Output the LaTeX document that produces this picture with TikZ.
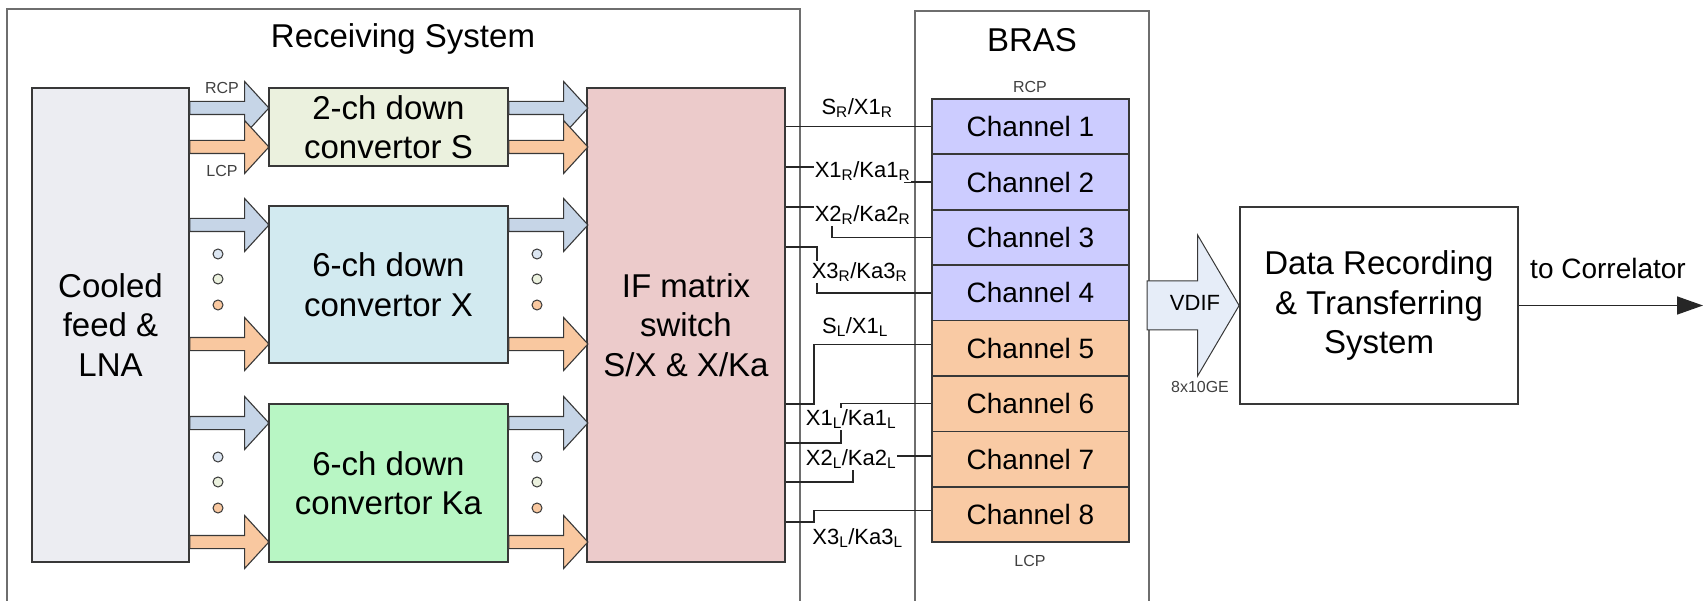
\documentclass[tikz,border=0pt]{standalone}
\usepackage{fontspec}
\setmainfont{Liberation Sans}
\usetikzlibrary{shapes.arrows,arrows.meta}

\definecolor{framegray}{HTML}{6E6E6E}
\definecolor{boxline}{HTML}{383838}
\definecolor{feedfill}{HTML}{ECEDF2}
\definecolor{sfill}{HTML}{EBF1DE}
\definecolor{xfill}{HTML}{D2EAF0}
\definecolor{kafill}{HTML}{B8F6C4}
\definecolor{iffill}{HTML}{ECCBCB}
\definecolor{rcpfill}{HTML}{CCCCFF}
\definecolor{lcpfill}{HTML}{F9CAA4}
\definecolor{rcparrow}{HTML}{C6D5E7}
\definecolor{lcparrow}{HTML}{F9C8A0}
\definecolor{vdiffill}{HTML}{E6EDF8}
\definecolor{dotblue}{HTML}{DCE6F2}

\tikzset{
  rimline/.style={draw=framegray, line width=2.6pt},
  block/.style={draw=boxline, line width=1.8pt, align=center, inner sep=0pt,
    font=\fontsize{33}{39.5}\selectfont},
  chan/.style={block, minimum width=197pt, minimum height=55.4pt,
    font=\fontsize{28}{34}\selectfont},
  flow/.style={single arrow, draw=boxline, line width=1.1pt, inner xsep=0pt, inner ysep=6pt,
    outer sep=0pt, minimum height=79pt, single arrow head extend=20pt,
    single arrow tip angle=95, anchor=tail},
  wire/.style={line width=1.4pt, draw=black!85},
  sig/.style={fill=white, inner sep=1pt, font=\fontsize{22}{26}\selectfont},
  pol/.style={text=black!75, inner sep=0pt, font=\fontsize{16}{18}\selectfont},
  gapdot/.style={circle, draw=boxline, line width=1pt, minimum size=10pt, inner sep=0pt}
}

\begin{document}
\begin{tikzpicture}[x=1pt,y=-1pt]
\useasboundingbox (0,0) rectangle (1704,601);

% the two frames run off the bottom
\draw[rimline] (7,601) -- (7,9) -- (800,9) -- (800,601);
\draw[rimline] (915,601) -- (915,11) -- (1149,11) -- (1149,601);
\node[font=\fontsize{33}{39.5}\selectfont] (rxtitle) at (403,39) {Receiving System};
\node[font=\fontsize{33}{39.5}\selectfont] (brastitle) at (1032,40) {BRAS};

\node[block, fill=feedfill, minimum width=157pt, minimum height=474pt] (feed) at (110.5,325) {Cooled\\feed \&\\LNA};
\node[block, fill=sfill, minimum width=239pt, minimum height=78pt] (convs) at (388.5,127) {2-ch down\\convertor S};
\node[block, fill=xfill, minimum width=239pt, minimum height=157pt] (convx) at (388.5,284.5) {6-ch down\\convertor X};
\node[block, fill=kafill, minimum width=239pt, minimum height=158pt] (convka) at (388.5,483) {6-ch down\\convertor Ka};
\node[block, fill=iffill, minimum width=198pt, minimum height=474pt] (ifm) at (686,325) {IF matrix\\switch\\S/X \& X/Ka};
\foreach \i/\c in {1/rcpfill,2/rcpfill,3/rcpfill,4/rcpfill,5/lcpfill,6/lcpfill,7/lcpfill,8/lcpfill}
  \node[chan, fill=\c] (ch\i) at (1030.5,71.3+55.4*\i) {Channel \i};
\node[block, minimum width=278pt, minimum height=197pt] (rec) at (1379,305.5) {Data Recording\\\& Transferring\\System};

\foreach \y/\c in {108/rcparrow,147/lcparrow,225/rcparrow,344/lcparrow,423/rcparrow,542/lcparrow} {
  \node[flow, fill=\c] (in\y) at (feed.east |- 0,\y) {};
  \node[flow, fill=\c] (out\y) at (convs.east |- 0,\y) {};
}
\foreach \x in {218,537}
  \foreach \y/\c in {0/dotblue,25/sfill,51/lcparrow} {
    \node[gapdot, fill=\c] (dx\x-\y) at (\x,254+\y) {};
    \node[gapdot, fill=\c] (dk\x-\y) at (\x,457+\y) {};
  }
\node[pol] (rcpin) at (222,88) {RCP};
\node[pol] (lcpin) at (222,171) {LCP};
\node[pol] (rcpout) at (1030,87) {RCP};
\node[pol] (lcpout) at (1030,561) {LCP};

\draw[wire] (ifm.east |- ch1.west) -- (ch1.west);
\draw[wire] (ifm.east |- 0,167) -- (905,167) |- (ch2.west);
\draw[wire] (ifm.east |- 0,207) -- (832,207) |- (ch3.west);
\draw[wire] (ifm.east |- 0,247) -- (817,247) |- (ch4.west);
\draw[wire] (ifm.east |- 0,404) -- (814,404) |- ([yshift=4pt]ch5.west);
\draw[wire] (ifm.east |- 0,443) -- (841,443) |- (ch6.west);
\draw[wire] (ifm.east |- 0,482) -- (853,482) |- ([yshift=3pt]ch7.west);
\draw[wire] (ifm.east |- 0,522) -- (814,522) |- ([yshift=4pt]ch8.west);
\node[sig] (sr) at (857,108) {S\textsubscript{R}/X1\textsubscript{R}};
\node[sig] (x1r) at (862.5,171) {X1\textsubscript{R}/Ka1\textsubscript{R}};
\node[sig] (x2r) at (862.5,215) {X2\textsubscript{R}/Ka2\textsubscript{R}};
\node[sig] (x3r) at (859.5,272) {X3\textsubscript{R}/Ka3\textsubscript{R}};
\node[sig] (sl) at (855,327) {S\textsubscript{L}/X1\textsubscript{L}};
\node[sig] (x1l) at (851,419) {X1\textsubscript{L}/Ka1\textsubscript{L}};
\node[sig] (x2l) at (851,459) {X2\textsubscript{L}/Ka2\textsubscript{L}};
\node[sig] (x3l) at (857.5,538) {X3\textsubscript{L}/Ka3\textsubscript{L}};

\node[flow, fill=vdiffill, anchor=tip, minimum height=92pt, inner ysep=24pt,
  single arrow head extend=46pt, single arrow tip angle=119, line width=1pt] (vdif) at (rec.west) {};
\node[font=\fontsize{22}{26}\selectfont] (vdiftxt) at (1195,303) {VDIF};
\node[pol] (ge) at (1200,387) {8x10GE};

\coordinate (corr) at (1703,305.5);
\draw[wire, -{Triangle[length=26pt,width=18pt]}] (rec.east) -- (corr);
\node[font=\fontsize{28}{34}\selectfont] (tocorr) at (1608,268) {to Correlator};
\end{tikzpicture}
\end{document}
